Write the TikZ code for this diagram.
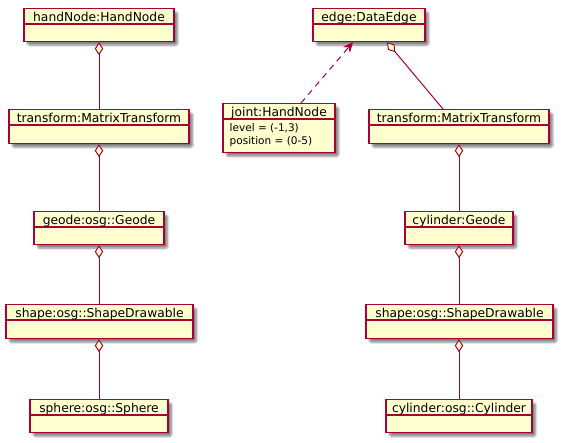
\documentclass[tikz,border=0pt]{standalone}
\usepackage{fontspec}
\setmainfont{DejaVu Sans}
\usetikzlibrary{arrows.meta,shadows.blur}
\definecolor{umlred}{HTML}{A80036}
\definecolor{umlfill}{HTML}{FEFECE}
\tikzset{
  objbox/.style={draw=umlred, fill=umlfill, line width=1.2pt, inner sep=0pt, anchor=north,
    blur shadow={shadow xshift=3.5pt, shadow yshift=-3.5pt, shadow blur steps=6, shadow blur extra rounding=1.5pt, shadow opacity=50}},
  objtitle/.style={anchor=base, inner sep=0pt, font=\fontsize{12.3}{14}\selectfont},
  objattr/.style={anchor=base west, inner sep=0pt, font=\fontsize{10.5}{12}\selectfont},
  sepline/.style={draw=umlred, line width=1.2pt},
  agg/.style={draw=umlred, line width=1pt, {Diamond[length=13pt,width=8.5pt,fill=umlfill,line width=1pt]}-},
  dep/.style={draw=umlred, line width=1pt, dash pattern=on 6pt off 5pt, -{Stealth[length=10pt,width=9pt,inset=3pt]}}
}
\newcommand\umlobj[6]{% name, cx, top, width, height, title
  \node[objbox, minimum width=#4, minimum height=#5] (#1) at (#2,#3) {};
  \draw[sepline] ([yshift=-16pt]#1.north west) -- ([yshift=-16pt]#1.north east);
  \node[objtitle] (#1-t) at (#2,#3+13.5) {#6};
}
\begin{document}
\begin{tikzpicture}[x=1pt,y=-1pt]
\useasboundingbox (0,0) rectangle (562,442);
% left column
\umlobj{hand}{99}{8}{150}{33}{handNode:HandNode}
\umlobj{tL}{99}{109}{180}{34}{transform:MatrixTransform}
\umlobj{geode}{99}{211}{130}{33}{geode:osg::Geode}
\umlobj{shL}{99.5}{304}{187}{34}{shape:osg::ShapeDrawable}
\umlobj{sph}{99}{399}{138}{33}{sphere:osg::Sphere}
% right
\umlobj{edge}{369}{8}{112}{33}{edge:DataEdge}
\umlobj{joint}{279}{103}{112}{49}{joint:HandNode}
\node[objattr] (ja) at (229.5,131) {level = (-1,3)};
\node[objattr] (jb) at (229.5,144.5) {position = (0-5)};
\umlobj{tR}{459}{109}{180}{34}{transform:MatrixTransform}
\umlobj{cg}{459}{211}{108}{33}{cylinder:Geode}
\umlobj{shR}{459.5}{304}{187}{34}{shape:osg::ShapeDrawable}
\umlobj{cyl}{459}{399}{146}{33}{cylinder:osg::Cylinder}
% connectors
\draw[agg] (hand.south) -- (tL.north);
\draw[agg] (tL.south) -- (geode.north);
\draw[agg] (geode.south) -- ([xshift=-0.5pt]shL.north);
\draw[agg] ([xshift=-0.5pt]shL.south) -- (sph.north);
\draw[agg] ([xshift=18pt]edge.south) -- ([xshift=-16pt]tR.north);
\draw[agg] (tR.south) -- (cg.north);
\draw[agg] (cg.south) -- ([xshift=-0.5pt]shR.north);
\draw[agg] ([xshift=-0.5pt]shR.south) -- (cyl.north);
\draw[dep] ([xshift=22pt]joint.north) -- ([xshift=-16pt]edge.south);
\end{tikzpicture}
\end{document}
